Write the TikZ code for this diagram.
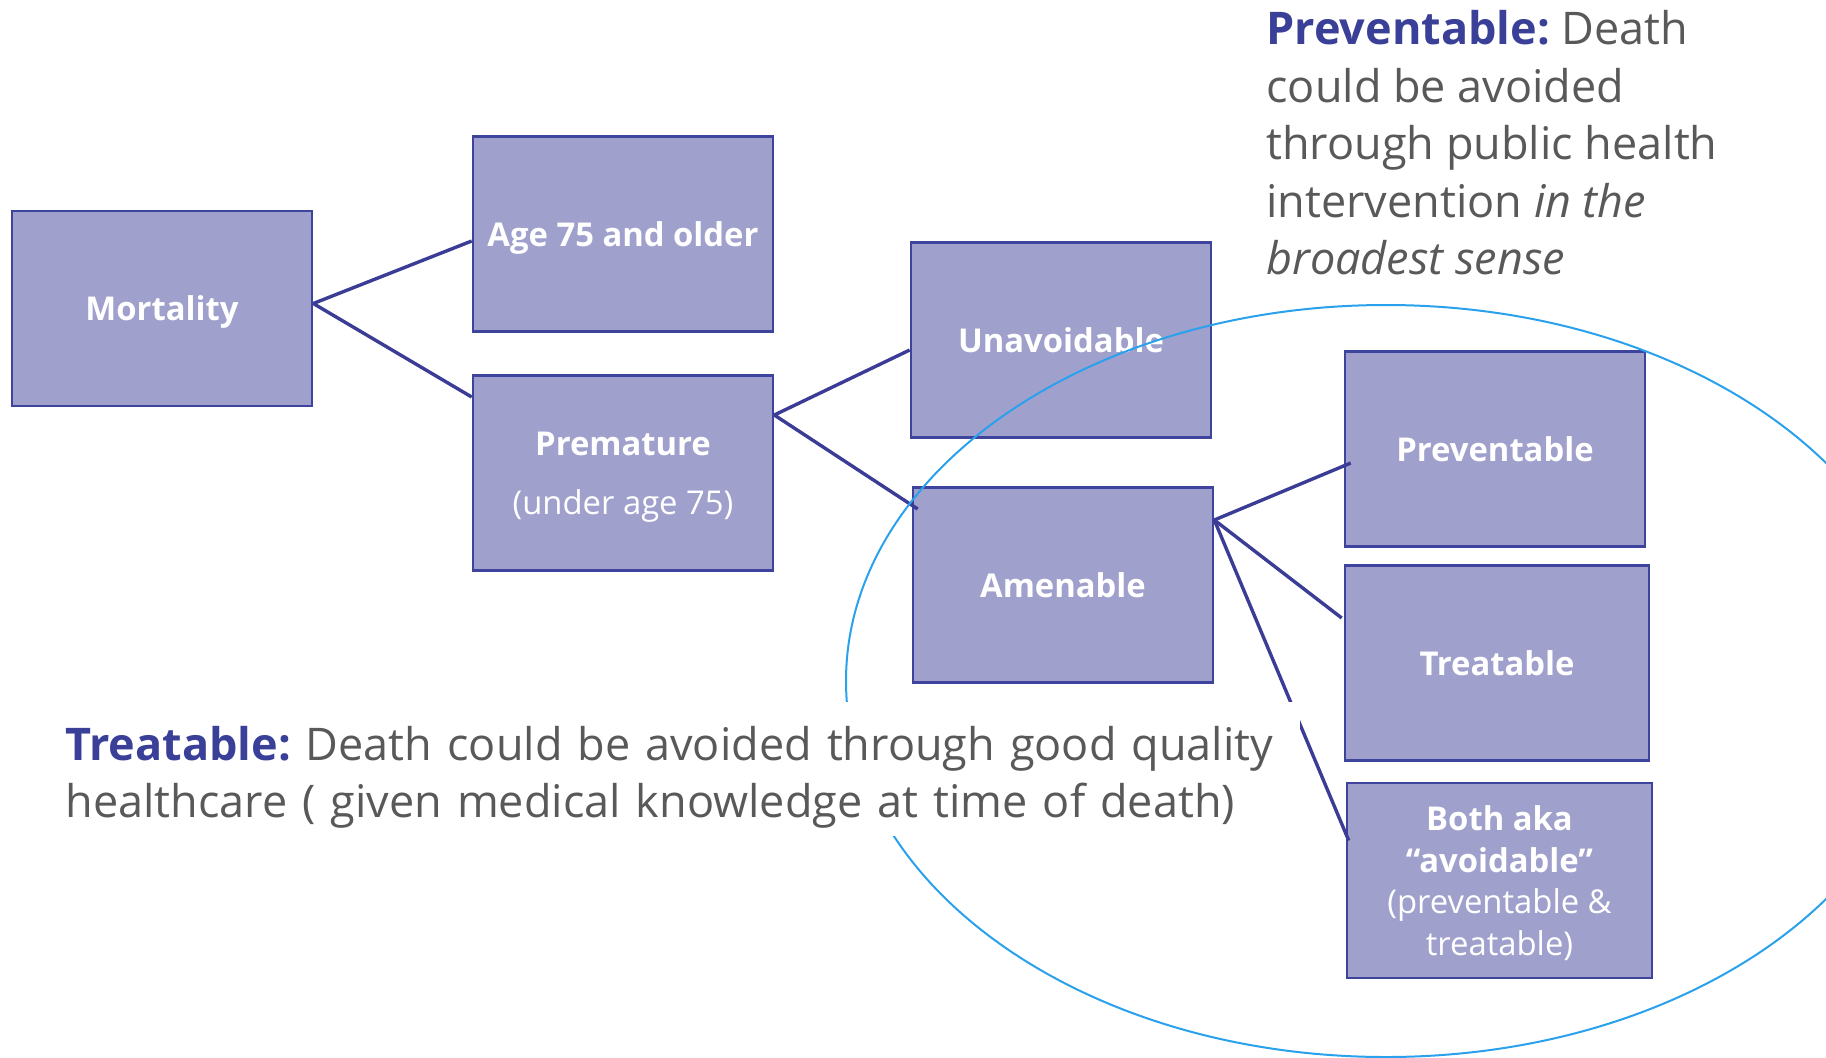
\documentclass[tikz,border=0pt]{standalone}
\usepackage{fontspec}
\setmainfont{Open Sans}
\usetikzlibrary{calc}
\definecolor{boxfill}{RGB}{160,160,205}
\definecolor{boxline}{RGB}{62,68,155}
\definecolor{connblue}{RGB}{58,60,150}
\definecolor{lblue}{RGB}{58,64,152}
\definecolor{txtgray}{RGB}{89,89,89}
\definecolor{ellblue}{RGB}{41,161,236}
\begin{document}
\begin{tikzpicture}[x=0.5pt,y=-0.5pt,
  box/.style={draw=boxline, fill=boxfill, line width=1.3pt, minimum width=150pt,
    minimum height=97.5pt, inner sep=0pt, text=white, align=center, text depth=0pt,
    font=\fontsize{16.4}{19.6}\selectfont\bfseries},
  conn/.style={draw=connblue, line width=1.7pt},
  ellip/.style={draw=ellblue, line width=1pt},
  note/.style={align=left, text=txtgray, font=\fontsize{22.5}{28.75}\selectfont\frenchspacing}]
\clip (0,0) rectangle (1826,1057);
% boxes
\node[box] (mort) at (162,308.5) {Mortality};
\node[box] (age) at (623,234) {Age 75 and older};
\node[box] (prem) at (623,473) {Premature\\[10pt]\mdseries (under age 75)};
\node[box] (unav) at (1061,340) {Unavoidable};
\node[box] (amen) at (1063,585) {Amenable};
\node[box] (prev) at (1495,449) {Preventable};
\node[box, minimum width=152pt] (treat) at (1497,663) {Treatable};
\node[box, minimum width=152.5pt, font=\fontsize{16.4}{20.8}\selectfont\bfseries] (both) at (1499.5,880.5)
  {Both aka\\``avoidable''\\\mdseries (preventable \&\\\mdseries treatable)};
% connectors
\draw[conn] ($(mort.east)+(0,-5)$) -- ($(age.west)+(0,7)$);
\draw[conn] ($(mort.east)+(0,-5)$) -- ($(prem.west)+(0,-76)$);
\draw[conn] ($(prem.east)+(0,-58)$) -- ($(unav.west)+(0,10)$);
\draw[conn] ($(prem.east)+(0,-58)$) -- ($(amen.west)+(6,-76)$);
\draw[conn] ($(amen.east)+(0,-65)$) -- ($(prev.west)+(7,14)$);
\draw[conn] ($(amen.east)+(0,-65)$) -- ($(treat.west)+(-2,-45)$);
\draw[conn] ($(amen.east)+(0,-65)$) -- ($(both.west)+(3,-40)$);
% ellipse
\draw[ellip] (1386,681) ellipse [x radius=270pt, y radius=188pt];
% notes
\node[note, anchor=north west, inner sep=0pt] (prevnote) at (1266,10)
  {\textcolor{lblue}{\bfseries Preventable:} Death\\could be avoided\\through public health\\intervention \textit{in the}\\\textit{broadest sense}};
\node[note, anchor=north west, fill=white, inner xsep=7.5pt, inner ysep=0pt,
      text height=29pt, text depth=38pt, text width=610pt] (treatnote) at (50,702)
  {\textcolor{lblue}{\bfseries Treatable:} Death could be avoided through good quality\\healthcare ( given medical knowledge at time of death)};
\end{tikzpicture}
\end{document}
